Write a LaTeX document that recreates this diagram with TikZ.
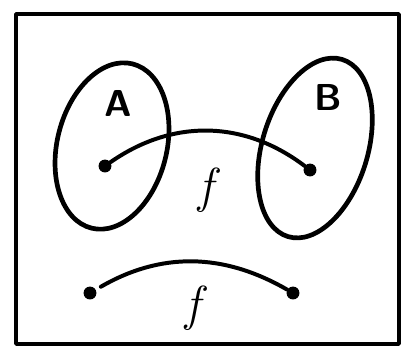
\documentclass[tikz,border=0pt]{standalone}
\usepackage{fontspec}
\usepackage{amsmath,amssymb}
\usetikzlibrary{shapes.geometric}

\begin{document}
\begin{tikzpicture}[x=0.03cm, y=-0.03cm, line cap=round, line join=round]
\useasboundingbox (0,0) rectangle (404,354);
\draw[line width=3pt] (16,14) rectangle (399,344);
% the two sets
\node[draw, line width=4pt, ellipse, minimum width=110*0.85pt, minimum height=170*0.85pt, rotate=-14] (setA) at (112,146) {};
\node[draw, line width=4pt, ellipse, minimum width=106*0.85pt, minimum height=186*0.85pt, rotate=-17] (setB) at (315,148) {};
\node[font=\sffamily\bfseries\fontsize{32}{32}\selectfont] (labA) at (118,103) {A};
\node[font=\sffamily\bfseries\fontsize{32}{32}\selectfont] (labB) at (328,97) {B};
\foreach \p/\x/\y in {dotA/105/166, dotB/310/170, dotL/90/293, dotR/293/293} { \node[circle, fill, inner sep=0pt, minimum size=11pt] (\p) at (\x,\y) {}; }
\draw[line width=3.4pt] (dotA) to[bend left=36] (dotB);
\draw[line width=3.4pt, shorten <=5pt] (dotL) to[bend left=30] (dotR);
\node[font=\itshape\fontsize{42}{42}\selectfont] (fTop) at (206,190) {f};
\node[font=\itshape\fontsize{42}{42}\selectfont] (fBot) at (193,308) {f};
\end{tikzpicture}
\end{document}
